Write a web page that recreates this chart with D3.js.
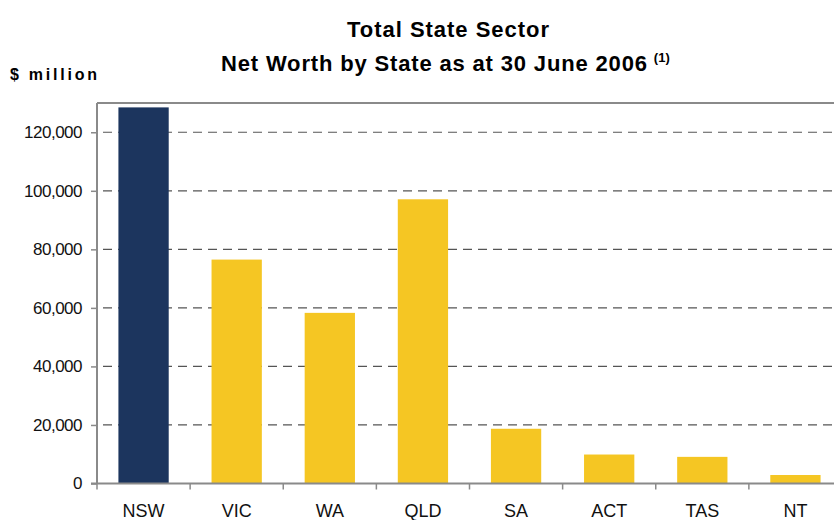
<!DOCTYPE html>
<html><head><meta charset="utf-8">
<script src="https://cdn.jsdelivr.net/npm/d3@7"></script>
<style>body{margin:0;background:#fff}svg{display:block;font-family:"Liberation Sans",Arial,sans-serif}</style>
</head><body><svg id="c" width="834" height="520"></svg>
<script>
const categories = ["NSW","VIC","WA","QLD","SA","ACT","TAS","NT"];
const values = [128500,76500,58300,97100,18700,9900,9100,2900];
const highlight = ["NSW"];
const yTicks = [0,20000,40000,60000,80000,100000,120000];
const title1 = "Total State Sector";
const title2 = "Net Worth by State as at 30 June 2006";
const unitLabel = "$ million";

const svg = d3.select("#c");
const m = {left:97, top:103, right:842, bottom:483.5};
const x = d3.scaleBand().domain(categories).range([m.left, m.right]).paddingInner(0.46).paddingOuter(0.23);
const y = d3.scaleLinear().domain([0,130000]).range([m.bottom, m.top]);

// gridlines
svg.append("g").selectAll("line").data(yTicks.filter(d=>d>0)).join("line")
  .attr("x1", m.left+6).attr("x2", m.right).attr("y1", d=>y(d)).attr("y2", d=>y(d))
  .attr("stroke","#555").attr("stroke-width",1.2).attr("stroke-dasharray","9,6");

// bars
svg.append("g").selectAll("rect").data(categories).join("rect")
  .attr("x", d=>x(d)).attr("width", x.bandwidth())
  .attr("y", (d,i)=>y(values[i])).attr("height", (d,i)=>y(0)-y(values[i]))
  .attr("fill", d=>highlight.includes(d)?"#1C355E":"#F5C623");

// frame: top
svg.append("line").attr("x1",m.left).attr("x2",834).attr("y1",m.top).attr("y2",m.top).attr("stroke","#8a8a8a").attr("stroke-width",2);

// y axis
const ya = svg.append("g").attr("transform",`translate(${m.left},0)`)
  .call(d3.axisLeft(y).tickValues(yTicks).tickSize(6).tickPadding(9).tickFormat(d3.format(",")));
ya.select(".domain").attr("stroke","#8a8a8a").attr("stroke-width",2).attr("d",`M0,${m.top}V${m.bottom}`);
ya.selectAll(".tick line").attr("stroke","#8a8a8a").attr("stroke-width",1.5);
ya.selectAll(".tick text").attr("font-size",17).attr("fill","#111").attr("letter-spacing","-0.5px")
  .attr("font-family","'Liberation Sans',Arial,sans-serif");

// x axis
const band = x.step();
const xa = svg.append("g").attr("transform",`translate(0,${m.bottom})`);
xa.append("line").attr("x1",m.left-6).attr("x2",834).attr("stroke","#8a8a8a").attr("stroke-width",2);
xa.selectAll("line.t").data(d3.range(categories.length+1)).join("line").attr("class","t")
  .attr("x1",i=>m.left+i*band).attr("x2",i=>m.left+i*band).attr("y1",0).attr("y2",6)
  .attr("stroke","#8a8a8a").attr("stroke-width",1.5);
xa.selectAll("text").data(categories).join("text")
  .attr("x", d=>x(d)+x.bandwidth()/2).attr("y",33).attr("text-anchor","middle")
  .attr("font-size",18).attr("fill","#111").text(d=>d);

// titles
svg.append("text").attr("x",448).attr("y",37).attr("text-anchor","middle")
  .attr("font-size",22).attr("font-weight","bold").attr("fill","#000")
  .attr("textLength",202).text(title1);
const t2 = svg.append("text").attr("x",221).attr("y",71)
  .attr("font-size",22).attr("font-weight","bold").attr("fill","#000");
t2.append("tspan").attr("textLength",426).text(title2);
t2.append("tspan").attr("font-size",13).attr("dx",6).attr("dy",-9).text("(1)");
svg.append("text").attr("x",10).attr("y",80).attr("font-size",16).attr("font-weight","bold")
  .attr("fill","#000").attr("textLength",87).text(unitLabel);
</script></body></html>
